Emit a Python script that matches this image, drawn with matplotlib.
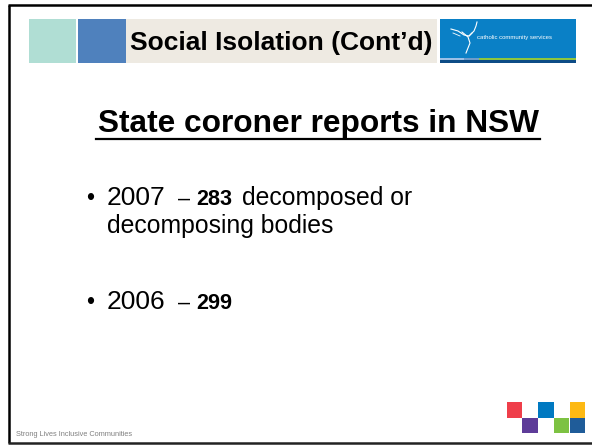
import matplotlib.pyplot as plt
from matplotlib.patches import Rectangle

plt.rcParams['font.family'] = ['Liberation Sans', 'DejaVu Sans']

W, H = 592, 445   # slide size in px

# slide content
title = "Social Isolation (Cont’d)"
heading = "State coroner reports in NSW"
years = ["2007", "2006"]
counts = ["283", "299"]
note_first = ["decomposed or", ""]
note_second = ["decomposing bodies", ""]
footer = "Strong Lives Inclusive Communities"
logo_text = "catholic community services"

# corner squares: (colour, column, row)
tile_colors = ["#EF3E4A", "#0079C1", "#FDB913", "#5E3C99", "#7DC242", "#1F5C99"]
tile_cols = [0, 2, 4, 1, 3, 4]
tile_rows = [0, 0, 0, 1, 1, 1]

fig = plt.figure(figsize=(W / 100, H / 100), dpi=100)
ax = fig.add_axes([0, 0, 1, 1])
ax.set_xlim(0, W)
ax.set_ylim(H, 0)
ax.axis('off')

# frame (right side is cut off)
ax.plot([8.5, 8.5], [4.5, 442.5], color='black', lw=1.8, solid_capstyle='butt')
ax.plot([7.5, W], [4.5, 4.5], color='black', lw=1.8, solid_capstyle='butt')
ax.plot([7.5, W], [442.5, 442.5], color='#222222', lw=1.8, solid_capstyle='butt')

# header band
ax.add_patch(Rectangle((29, 18.5), 47, 44.5, color='#B0DED4', lw=0))
ax.add_patch(Rectangle((77.5, 18.5), 48.5, 44.5, color='#4F81BD', lw=0))
ax.add_patch(Rectangle((126, 18.5), 311, 44.5, color='#EEEAE2', lw=0))
ax.text(281, 50, title, fontsize=19, fontweight='bold', ha='center', va='baseline')

# logo
ax.add_patch(Rectangle((439.5, 18.5), 136.5, 39, color='#0A80C6', lw=0))
ax.add_patch(Rectangle((439.5, 57.5), 24, 2.5, color='#9CC0E6', lw=0))
ax.add_patch(Rectangle((463.5, 57.5), 15, 2.5, color='#6E9CCB', lw=0))
ax.add_patch(Rectangle((478.5, 57.5), 97.5, 2.5, color='#8DC63F', lw=0))
ax.add_patch(Rectangle((439.5, 60), 136.5, 3.3, color='#0D4C86', lw=0))
ax.plot([451, 458, 464, 469, 472], [29, 31, 35, 36, 33], color='white', lw=0.8)
ax.plot([469, 474, 476, 477], [36, 31, 26, 22], color='white', lw=0.8)
ax.plot([462, 468, 470, 468, 466], [32, 37, 43, 48, 53], color='white', lw=0.8)
ax.plot([453, 460], [33, 36], color='white', lw=0.6)
ax.text(477, 39, logo_text, fontsize=4.3, color='white', ha='left', va='baseline')

# heading with underline
ax.text(318, 132, heading, fontsize=22.8, fontweight='bold', ha='center', va='baseline')
ax.plot([96, 540], [139, 139], color='black', lw=1.6)

# bullets
base_y = [205, 309]
for i in range(len(years)):
    y = base_y[i]
    ax.text(86.5, y - 0.5, "•", fontsize=16.5, ha='left', va='baseline')
    ax.text(107, y, years[i], fontsize=19, ha='left', va='baseline')
    ax.text(178, y, "–", fontsize=15.5, ha='left', va='baseline')
    ax.text(196, y, counts[i], fontsize=15.6, fontweight='bold', ha='left', va='baseline')
    if note_first[i]:
        ax.text(242, y, note_first[i], fontsize=17.8, ha='left', va='baseline')
        ax.text(107, y + 28, note_second[i], fontsize=17.8, ha='left', va='baseline')

# footer
ax.text(16, 436, footer, fontsize=5.3, color='#808080', ha='left', va='baseline')

# coloured tiles
for c, col, row in zip(tile_colors, tile_cols, tile_rows):
    ax.add_patch(Rectangle((506.5 + col * 15.8, 402 + row * 15.7), 15.5, 15.6, color=c, lw=0))

fig.savefig('out.png', dpi=100)
